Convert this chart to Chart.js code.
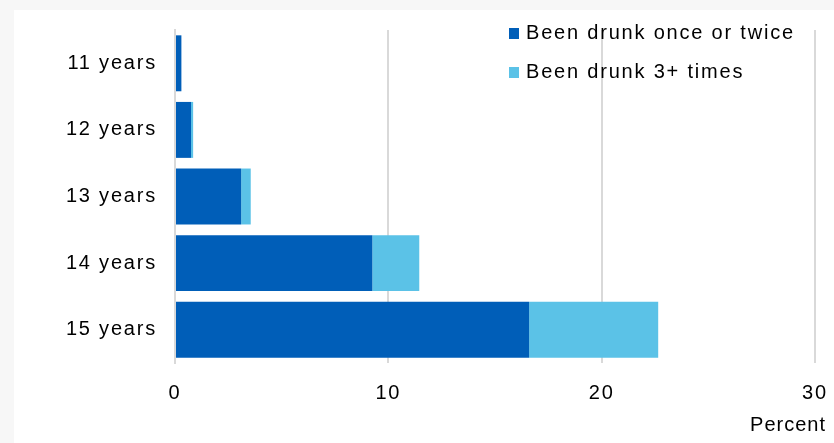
<!DOCTYPE html>
<html>
<head>
<meta charset="utf-8">
<script src="https://cdn.jsdelivr.net/npm/chart.js@4"></script>
<style>
  html, body { margin: 0; padding: 0; background: #f7f7f7; }
  #wrap { width: 834px; height: 443px; position: relative; }
</style>
</head>
<body>
<div id="wrap"><canvas id="chart" width="834" height="443"></canvas></div>
<script>
// data
const ages = ['11 years', '12 years', '13 years', '14 years', '15 years'];
const drunkOnceTwice = [0.3, 0.75, 3.1, 9.25, 16.6];
const drunkThreePlus = [0, 0.1, 0.45, 2.2, 6.05];
const xTicks = [0, 10, 20, 30];
const seriesNames = ['Been drunk once or twice', 'Been drunk 3+ times'];

const FONT = '"Liberation Sans", Arial, sans-serif';

// gray page with the white panel, and letter spacing like the original export
const panelBg = {
  id: 'panelBg',
  beforeDraw(chart) {
    const ctx = chart.ctx;
    ctx.save();
    ctx.fillStyle = '#f7f7f7';
    ctx.fillRect(0, 0, chart.width, chart.height);
    ctx.fillStyle = '#ffffff';
    ctx.fillRect(14, 10, chart.width - 14, chart.height - 10);
    ctx.restore();
    ctx.letterSpacing = '1.8px';
  }
};

// legend sitting inside the plot, top right
const innerLegend = {
  id: 'innerLegend',
  afterDraw(chart) {
    const ctx = chart.ctx;
    ctx.save();
    ctx.letterSpacing = '1.8px';
    ctx.font = '20px ' + FONT;
    ctx.textBaseline = 'middle';
    ctx.textAlign = 'left';
    chart.data.datasets.forEach((ds, i) => {
      const y = 33 + i * 39;
      ctx.fillStyle = ds.backgroundColor;
      ctx.fillRect(509, y - 5, 10, 11);
      ctx.fillStyle = '#000';
      ctx.fillText(ds.label, 526, y);
    });
    // axis title
    ctx.letterSpacing = '1px';
    ctx.textAlign = 'right';
    ctx.fillText('Percent', 826, 425);
    ctx.restore();
  }
};

new Chart(document.getElementById('chart'), {
  type: 'bar',
  data: {
    labels: ages,
    datasets: [
      {
        label: seriesNames[0],
        data: drunkOnceTwice,
        backgroundColor: '#005EB8',
        barPercentage: 0.84,
        categoryPercentage: 1,
      },
      {
        label: seriesNames[1],
        data: drunkThreePlus,
        backgroundColor: '#5BC2E7',
        barPercentage: 0.84,
        categoryPercentage: 1,
      },
    ],
  },
  options: {
    indexAxis: 'y',
    responsive: false,
    animation: false,
    layout: {
      padding: { left: 0, right: 19, top: 30, bottom: 0 },
    },
    scales: {
      x: {
        stacked: true,
        min: 0,
        max: 30,
        afterBuildTicks: (scale) => {
          scale.ticks = xTicks.map((v) => ({ value: v }));
        },
        afterFit: (scale) => {
          scale.height = 80;
          scale.paddingLeft = 0;
          scale.paddingRight = 0;
        },
        grid: {
          color: '#d9d9d9',
          lineWidth: 2,
          drawTicks: false,
        },
        border: { display: false },
        ticks: {
          padding: 18,
          color: '#000',
          font: { family: FONT, size: 20 },
        },
      },
      y: {
        stacked: true,
        afterFit: (scale) => {
          scale.width = 175;
        },
        grid: { display: false, drawTicks: false },
        border: { display: true, color: '#d9d9d9', width: 2 },
        ticks: {
          padding: 18,
          color: '#000',
          font: { family: FONT, size: 20 },
        },
      },
    },
    plugins: {
      legend: { display: false },
      tooltip: { enabled: false },
    },
  },
  plugins: [panelBg, innerLegend],
});
</script>
</body>
</html>
